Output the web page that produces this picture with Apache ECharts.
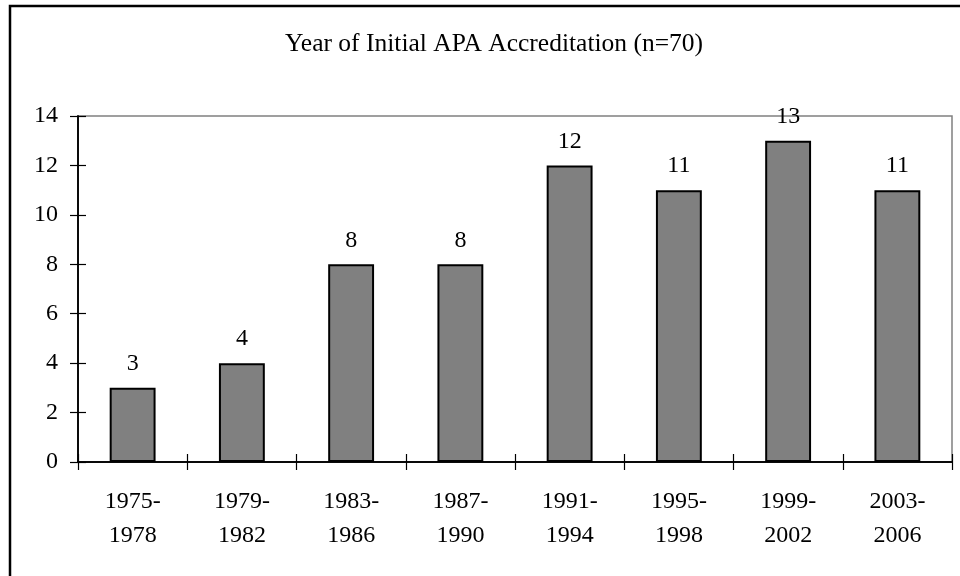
<!DOCTYPE html>
<html><head><meta charset="utf-8">
<script src="https://cdn.jsdelivr.net/npm/echarts@6/dist/echarts.min.js"></script>
<style>html,body{margin:0;padding:0;background:#fff}#c{width:960px;height:576px}</style>
</head><body><div id="c"></div>
<script>
const categories = ['1975-\n1978','1979-\n1982','1983-\n1986','1987-\n1990','1991-\n1994','1995-\n1998','1999-\n2002','2003-\n2006'];
const counts = [3, 4, 8, 8, 12, 11, 13, 11];
const titleText = 'Year of Initial APA Accreditation (n=70)';
const yMin = 0, yMax = 14, yStep = 2;

const FONT = "'Liberation Serif', 'Times New Roman', serif";
const chart = echarts.init(document.getElementById('c'));
const baseX = {
  type: 'category', data: categories, position: 'bottom',
  axisLine: { show: true, lineStyle: { color: '#000', width: 1.5 } },
  axisLabel: { show: false },
  splitLine: { show: false }
};
const baseY = {
  type: 'value', min: yMin, max: yMax, interval: yStep, position: 'left',
  axisLine: { show: true, lineStyle: { color: '#000', width: 1.5 } },
  axisLabel: { show: false },
  splitLine: { show: false }
};
chart.setOption({
  animation: false,
  backgroundColor: '#fff',
  title: {
    text: titleText, left: 280, top: 26,
    textStyle: { fontFamily: FONT, fontSize: 25.5, fontWeight: 'normal', color: '#000' }
  },
  grid: {
    left: 78, right: 8, top: 116, bottom: 114,
    show: true, borderColor: '#808080', borderWidth: 1.5, backgroundColor: 'transparent'
  },
  xAxis: [
    Object.assign({}, baseX, {
      axisTick: { show: true, inside: false, length: 8, alignWithLabel: false, lineStyle: { color: '#000', width: 1.2 } },
      axisLabel: { show: true, margin: 23, fontFamily: FONT, fontSize: 24, color: '#000', lineHeight: 34, interval: 0 }
    }),
    Object.assign({}, baseX, {
      axisTick: { show: true, inside: true, length: 8, lineStyle: { color: '#000', width: 1.2 } }
    })
  ],
  yAxis: [
    Object.assign({}, baseY, {
      axisTick: { show: true, inside: false, length: 8, lineStyle: { color: '#000', width: 1.2 } },
      axisLabel: { show: true, margin: 20, fontFamily: FONT, fontSize: 24, color: '#000', padding: [3, 0, 0, 0] }
    }),
    Object.assign({}, baseY, {
      axisTick: { show: true, inside: true, length: 8, lineStyle: { color: '#000', width: 1.2 } }
    })
  ],
  series: [{
    type: 'bar', data: counts, xAxisIndex: 0, yAxisIndex: 0,
    barWidth: '42%',
    itemStyle: { color: '#808080', borderColor: '#000', borderWidth: 2 },
    label: { show: true, position: 'top', distance: 12, fontFamily: FONT, fontSize: 24, color: '#000' }
  }],
  graphic: [{
    type: 'rect', shape: { x: 10, y: 6, width: 1200, height: 1200 },
    style: { fill: 'none', stroke: '#000', lineWidth: 2.5 }, z: 100
  }]
});
</script></body></html>
